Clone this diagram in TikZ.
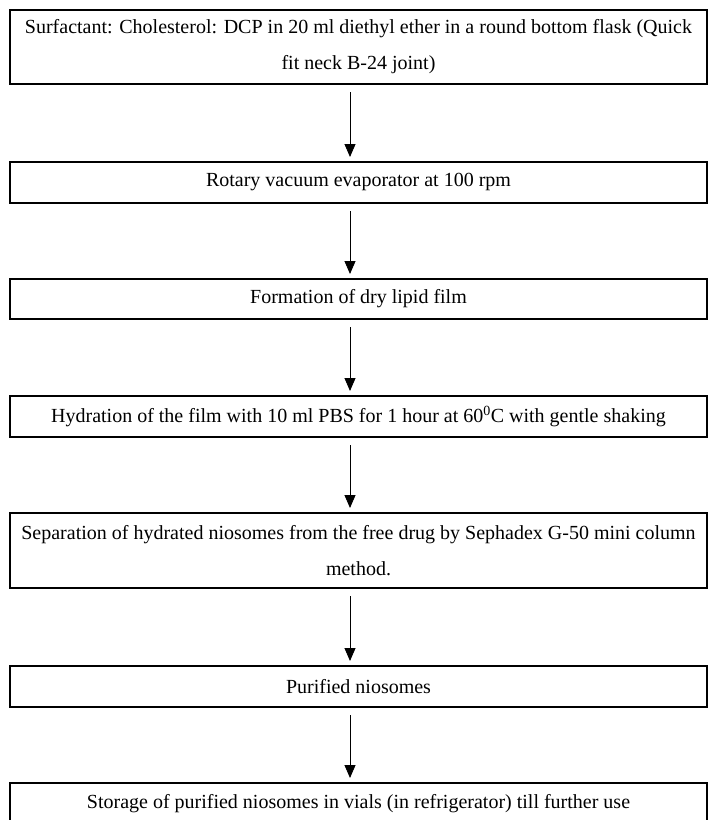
\documentclass[tikz,border=0pt]{standalone}
\usepackage{fontspec}
\setmainfont{Liberation Serif}
\usetikzlibrary{arrows.meta}
\begin{document}
\begin{tikzpicture}[x=1pt,y=-1pt,
    stepbox/.style={draw,line width=2pt,minimum width=697pt,inner sep=0pt,
      align=center,font=\fontsize{20}{36}\selectfont},
    flow/.style={line width=0.9pt,-{Triangle[length=13pt,width=11pt]},shorten <=7pt,shorten >=4pt}]
    \useasboundingbox (0,0) rectangle (709,820);
    \node[stepbox,minimum height=74pt] (s1) at (358.5,47) {Surfactant: Cholesterol: DCP in 20 ml diethyl ether in a round bottom flask (Quick\\fit neck B-24 joint)};
    \node[stepbox,minimum height=41pt] (s2) at (358.5,182.5) {Rotary vacuum evaporator at 100 rpm};
    \node[stepbox,minimum height=40pt] (s3) at (358.5,299) {Formation of dry lipid film};
    \node[stepbox,minimum height=41pt] (s4) at (358.5,416.5) {Hydration of the film with 10 ml PBS for 1 hour at 60\textsuperscript{0}C with gentle shaking};
    \node[stepbox,minimum height=75pt] (s5) at (358.5,550.5) {Separation of hydrated niosomes from the free drug by Sephadex G-50 mini column\\method.};
    \node[stepbox,minimum height=41pt] (s6) at (358.5,686.5) {Purified niosomes};
    \node[stepbox,minimum height=41pt] (s7) at (358.5,803.5) {Storage of purified niosomes in vials (in refrigerator) till further use};
    \foreach \a/\b in {s1/s2,s2/s3,s3/s4,s4/s5,s5/s6,s6/s7}
        \draw[flow] ([xshift=-8.5pt]\a.south) -- ([xshift=-8.5pt]\b.north);
\end{tikzpicture}
\end{document}
